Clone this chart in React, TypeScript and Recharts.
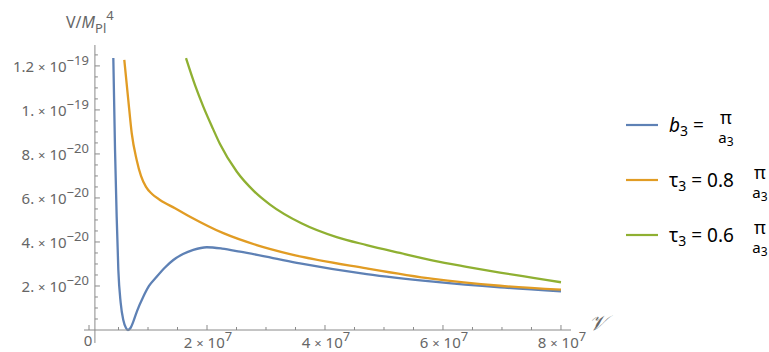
import React from 'react';
import { LineChart, Line, XAxis, YAxis, ReferenceLine, Legend } from 'recharts';

// 𝒱 in units of 10^7, V/M_Pl^4 in units of 10^-20
const B_X = [0.412, 0.441, 0.469, 0.497, 0.537, 0.581, 0.627, 0.661, 0.703, 0.751, 0.814, 0.92, 1.017, 1.147, 1.288, 1.429, 1.593, 1.768, 1.995, 2.254, 2.559, 3.119, 3.576, 4.706, 5.836, 6.966, 8.0];
const B_V = [12.36, 8.18, 5.14, 2.73, 1.23, 0.45, 0.09, 0.0, 0.09, 0.38, 0.86, 1.51, 2.0, 2.42, 2.84, 3.18, 3.45, 3.64, 3.76, 3.7, 3.56, 3.27, 3.03, 2.54, 2.2, 1.94, 1.76];

const T08_X = [0.598, 0.666, 0.724, 0.808, 0.881, 0.966, 1.068, 1.203, 1.458, 1.712, 2.277, 2.842, 3.407, 4.706, 5.836, 6.966, 8.0];
const T08_V = [12.27, 10.45, 8.94, 7.73, 7.0, 6.5, 6.18, 5.91, 5.53, 5.15, 4.4, 3.86, 3.45, 2.8, 2.32, 2.01, 1.83];

const T06_X = [1.644, 1.8, 1.937, 2.1, 2.22, 2.503, 2.8, 3.068, 3.6, 4.198, 4.706, 5.27, 5.836, 6.4, 6.966, 7.53, 8.0];
const T06_V = [12.35, 11.1, 10.15, 9.15, 8.45, 7.2, 6.3, 5.7, 4.85, 4.22, 3.86, 3.5, 3.15, 2.87, 2.61, 2.37, 2.17];

// Axis ticks: majors carry labels, the rest are minor marks
const X_MAJOR = [0, 2, 4, 6, 8];
const X_TICKS = [0, 0.5, 1, 1.5, 2, 2.5, 3, 3.5, 4, 4.5, 5, 5.5, 6, 6.5, 7, 7.5, 8];
const X_EXP = '7';

const Y_TICKS = [0.5, 1, 1.5, 2, 2.5, 3, 3.5, 4, 4.5, 5, 5.5, 6, 6.5, 7, 7.5, 8, 8.5, 9, 9.5, 10, 10.5, 11, 11.5, 12, 12.5];
const Y_LABELS: Record<number, [string, string]> = {
  2: ['2.', '−20'],
  4: ['4.', '−20'],
  6: ['6.', '−20'],
  8: ['8.', '−20'],
  10: ['1.', '−19'],
  12: ['1.2', '−19'],
};

const BLUE = '#5E81B5';
const ORANGE = '#E19C24';
const GREEN = '#8FB032';
const AXIS = '#8a8a8a';
const LABEL = '#666666';
const FONT = '"Noto Sans", "DejaVu Sans", sans-serif';

const SERIES = [
  { id: 'b', sym: 'b', italic: true, coef: '', fracX: 116, color: BLUE, xs: B_X, vs: B_V },
  { id: 't08', sym: 'τ', italic: false, coef: '0.8', fracX: 150, color: ORANGE, xs: T08_X, vs: T08_V },
  { id: 't06', sym: 'τ', italic: false, coef: '0.6', fracX: 150, color: GREEN, xs: T06_X, vs: T06_V },
];

// Layout
const W = 769;
const H = 352;
const MARGIN = { top: 45, right: 198, bottom: 0, left: 0 };
const Y_AXIS_W = 84;
const X_AXIS_H = 22;
const X_MIN = -0.085;
const X_MAX = 8.17;
const Y_MIN = 0;
const Y_MAX = 12.95;
const Y_AXIS_AT = 0.1; // x value where the vertical axis sits
const Y_AXIS_LOW = -0.59;
const PLOT_W = W - MARGIN.left - MARGIN.right - Y_AXIS_W;
const AXIS_X = MARGIN.left + Y_AXIS_W + ((Y_AXIS_AT - X_MIN) / (X_MAX - X_MIN)) * PLOT_W;

const XTick = (props: any) => {
  const { x, y, payload } = props;
  const v = payload.value;
  const major = X_MAJOR.includes(v);
  return (
    <g>
      <line x1={x} x2={x} y1={y} y2={y - (major ? 5 : 3)} stroke={AXIS} strokeWidth={1} />
      {major && v === 0 && (
        <text x={x - 1} y={y + 16} textAnchor="middle" fontSize={15} fontFamily={FONT} fill={LABEL}>
          0
        </text>
      )}
      {major && v !== 0 && (
        <text x={x + 1} y={y + 18} textAnchor="middle" fontSize={15} fontFamily={FONT} fill={LABEL}>
          <tspan>{`${v} `}</tspan>
          <tspan fontSize={13}>×</tspan>
          <tspan>{' 10'}</tspan>
          <tspan fontSize={13} dy={-7}>{X_EXP}</tspan>
        </text>
      )}
    </g>
  );
};

const YTick = (props: any) => {
  const { y, payload } = props;
  const v = payload.value;
  const lab = Y_LABELS[v];
  return (
    <g>
      <line x1={AXIS_X} x2={AXIS_X + (lab ? 5 : 3)} y1={y} y2={y} stroke={AXIS} strokeWidth={1} />
      {lab && (
        <text x={AXIS_X - 6} y={y + 6} textAnchor="end" fontSize={15} fontFamily={FONT} fill={LABEL}>
          <tspan>{`${lab[0]} `}</tspan>
          <tspan fontSize={13}>×</tspan>
          <tspan>{' 10'}</tspan>
          <tspan fontSize={13} dy={-7}>{lab[1]}</tspan>
        </text>
      )}
    </g>
  );
};

const YTitle = () => (
  <text x={66} y={28} fontSize={16} fontFamily={FONT} fill={LABEL}>
    <tspan>V/</tspan>
    <tspan fontStyle="italic">M</tspan>
    <tspan fontSize={13} dy={5}>Pl</tspan>
    <tspan fontSize={13} dy={-13}>4</tspan>
  </text>
);

const XTitle = () => (
  <text x={589} y={330} fontSize={21} fontFamily="'DejaVu Serif', serif" fontStyle="italic" fill={LABEL}>
    𝒱
  </text>
);

const LegendBox = () => (
  <svg width={159} height={170} style={{ display: 'block' }}>
    {SERIES.map((s, i) => {
      const cy = 27 + 55 * i;
      return (
        <g key={s.id} fontFamily={FONT} fill="#000">
          <line x1={16} x2={48} y1={cy} y2={cy} stroke={s.color} strokeWidth={2.2} />
          <text x={59} y={cy + 7} fontSize={19}>
            <tspan fontStyle={s.italic ? 'italic' : 'normal'}>{s.sym}</tspan>
            <tspan fontSize={14} dy={4}>3</tspan>
            <tspan dy={-4}>{s.coef ? ` = ${s.coef}` : ' ='}</tspan>
          </text>
          <text x={s.fracX} y={cy - 1} textAnchor="middle" fontSize={18}>
            π
          </text>
          <text x={s.fracX} y={cy + 18} textAnchor="middle" fontSize={15}>
            <tspan>a</tspan>
            <tspan fontSize={12} dy={3}>3</tspan>
          </text>
        </g>
      );
    })}
  </svg>
);

export default function App() {
  return (
    <div style={{ position: 'absolute', left: 0, top: 0, background: '#fff' }}>
      <LineChart width={W} height={H} margin={MARGIN}>
        <XAxis
          type="number"
          dataKey="x"
          domain={[X_MIN, X_MAX]}
          ticks={X_TICKS}
          interval={0}
          tickSize={0}
          tickMargin={0}
          tickLine={false}
          height={X_AXIS_H}
          axisLine={{ stroke: AXIS, strokeWidth: 1 }}
          tick={(p: any) => <XTick {...p} />}
          label={{ content: () => <XTitle /> }}
        />
        <YAxis
          type="number"
          dataKey="v"
          domain={[Y_MIN, Y_MAX]}
          ticks={Y_TICKS}
          interval={0}
          tickSize={0}
          tickMargin={0}
          tickLine={false}
          width={Y_AXIS_W}
          axisLine={false}
          tick={(p: any) => <YTick {...p} />}
          label={{ content: () => <YTitle /> }}
        />
        <ReferenceLine
          segment={[
            { x: Y_AXIS_AT, y: Y_AXIS_LOW },
            { x: Y_AXIS_AT, y: Y_MAX },
          ]}
          stroke={AXIS}
          strokeWidth={1}
          ifOverflow="visible"
        />
        {SERIES.map((s) => (
          <Line
            key={s.id}
            name={s.id}
            data={s.xs.map((x, i) => ({ x, v: s.vs[i] }))}
            dataKey="v"
            type="monotone"
            stroke={s.color}
            strokeWidth={2.3}
            dot={false}
            activeDot={false}
            isAnimationActive={false}
          />
        ))}
        <Legend
          layout="vertical"
          align="center"
          verticalAlign="middle"
          wrapperStyle={{ left: 610, top: 98, width: 159, height: 170 }}
          content={() => <LegendBox />}
        />
      </LineChart>
    </div>
  );
}
